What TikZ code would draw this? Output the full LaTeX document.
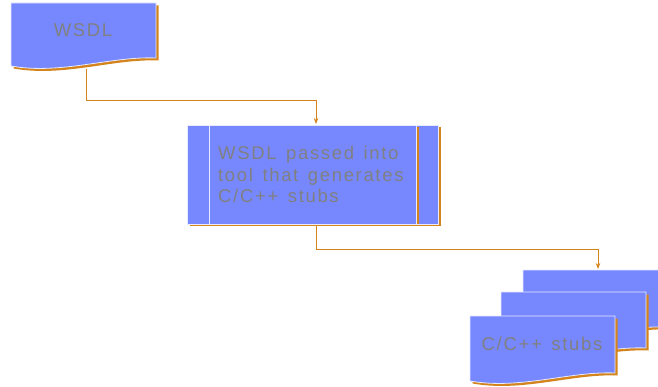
\documentclass[tikz,border=0pt]{standalone}
\usepackage{fontspec}
\setmainfont{Liberation Sans}[LetterSpace=9,WordSpace=1.4]
\usetikzlibrary{arrows.meta}
\definecolor{fillb}{RGB}{119,136,255}
\definecolor{shad}{RGB}{212,132,28}
\definecolor{txt}{RGB}{128,128,128}
\definecolor{edge}{RGB}{232,234,255}
\newcommand\docpage[4]{%
  \fill[shad,shift={(2.5,2.5)}] (#1,#2) -- (#3,#2) -- (#3,#4-8) .. controls (#3-45,#4-10) and (#1+50,#4+9) .. (#1,#4) -- cycle;
  \path[pagest] (#1,#2) -- (#3,#2) -- (#3,#4-8) .. controls (#3-45,#4-10) and (#1+50,#4+9) .. (#1,#4) -- cycle;}
\begin{document}
\begin{tikzpicture}[x=1pt,y=-1pt,
  pagest/.style={fill=fillb,draw=edge,line width=0.8pt},
  conn/.style={draw=shad,line width=0.9pt,-{Stealth[length=6pt,width=4.5pt]}},
  lbl/.style={text=txt,font=\fontsize{18.5}{21.5}\selectfont,inner sep=0pt}]
\useasboundingbox (0,0) rectangle (658,387);
% WSDL document
\docpage{11}{3}{156}{66}
\node[lbl,anchor=base] (wsdl) at (83,37) {WSDL};
\coordinate (wsdlout) at (86,69);
% process box
\fill[shad] (189.5,127.5) rectangle (440.5,226.5);
\node[pagest,minimum width=251pt,minimum height=99pt,inner sep=0pt] (proc) at (312.5,174.5) {};
\draw[shad,line width=1.2pt] (418,127) -- (418,224);
\draw[edge,line width=0.8pt] (209.5,125) -- (209.5,224) (416,125) -- (416,224);
\node[lbl,anchor=north west,align=left] (proctext) at (218,146) {WSDL passed into\\tool that generates\\C/C++ stubs};
\coordinate (procin) at (316,124);
\coordinate (procout) at (316,226.5);
% multi-document
\docpage{523}{270}{668}{335}
\docpage{501}{292}{646}{356}
\docpage{470}{316}{615}{381}
\node[lbl,anchor=base] (stubs) at (542,350) {C/C++ stubs};
\coordinate (stubsin) at (598,269);
% connectors
\draw[conn] (wsdlout) -- ++(0,31) -| (procin);
\draw[conn] (procout) -- ++(0,22.5) -| (stubsin);
\end{tikzpicture}
\end{document}
